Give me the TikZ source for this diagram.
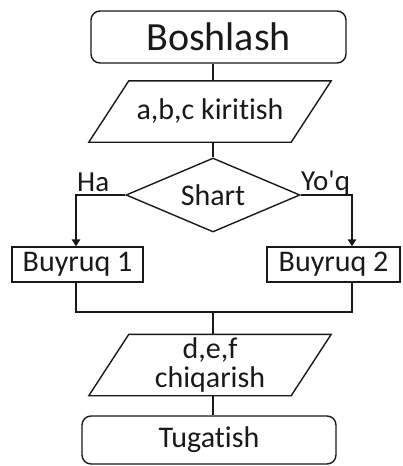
\documentclass[tikz,border=0pt]{standalone}
\usepackage{fontspec}
\setmainfont{Carlito}[Ligatures={TeXOff,NoCommon}]
\usetikzlibrary{arrows.meta,shapes.geometric}
\definecolor{ink}{RGB}{25,25,25}
\tikzset{
  >={Triangle[length=7pt,width=8.5pt]},
  flow/.style={draw=ink,line width=1.4pt},
  term/.style={draw=ink,line width=1.4pt,rounded corners=9pt,inner sep=0pt,
    text=ink,font=\fontsize{30}{30}\selectfont},
  io/.style={inner sep=0pt,minimum width=202pt,minimum height=61pt,align=center,
    text=ink,font=\fontsize{30}{29}\selectfont},
  cond/.style={diamond,aspect=2.4,draw=ink,line width=1.4pt,inner sep=0pt,
    minimum width=174pt,minimum height=74pt,text=ink,font=\fontsize{30}{30}\selectfont},
  cmd/.style={draw=ink,line width=1.4pt,inner sep=0pt,minimum height=35pt,
    text=ink,font=\fontsize{30}{30}\selectfont},
  tag/.style={inner sep=0pt,anchor=base west,text=ink,font=\fontsize{29}{29}\selectfont}
}
\begin{document}
\begin{tikzpicture}[x=1pt,y=-1pt]
  \useasboundingbox (0,0) rectangle (402,466);
  \node[term,minimum width=255pt,minimum height=52pt,font=\fontsize{40}{40}\selectfont] (start) at (218.5,37) {Boshlash};
  \node[io] (in) at (210,111.5) {a,b,c kiritish};
  \node[cond] (shart) at (213,195) {Shart};
  \node[cmd,minimum width=131pt] (b1) at (77.5,264.5) {Buyruq 1};
  \node[cmd,minimum width=133pt] (b2) at (333.5,264.5) {Buyruq 2};
  \node[io] (out) at (210,365) {d,e,f\\chiqarish};
  \node[term,minimum width=254pt,minimum height=48pt] (end) at (209,440) {Tugatish};
  \node[tag] (ha) at (77,191) {Ha};
  \node[tag] (yoq) at (301,190) {Yo'q};
  \foreach \n in {in,out}
    \draw[flow] ([xshift=-20pt]\n.south west) -- ([xshift=20pt]\n.north west)
      -- ([xshift=20pt]\n.north east) -- ([xshift=-20pt]\n.south east) -- cycle;
  \coordinate (axis) at (213,0);
  \coordinate (left) at (76,195);
  \coordinate (right) at (352,195);
  \coordinate (join) at (213,312);
  \draw[flow] (start.south -| axis) -- (in.north -| axis);
  \draw[flow] (in.south -| axis) -- (shart.north);
  \draw[flow,->] (shart.west) -- (left) -- (left |- b1.north);
  \draw[flow,->] (shart.east) -- (right) -- (right |- b2.north);
  \draw[flow] (left |- b1.south) -- (left |- join) -- (right |- join) -- (right |- b2.south);
  \draw[flow] (join) -- (out.north -| join);
  \draw[flow] (out.south -| axis) -- (end.north -| axis);
\end{tikzpicture}
\end{document}
